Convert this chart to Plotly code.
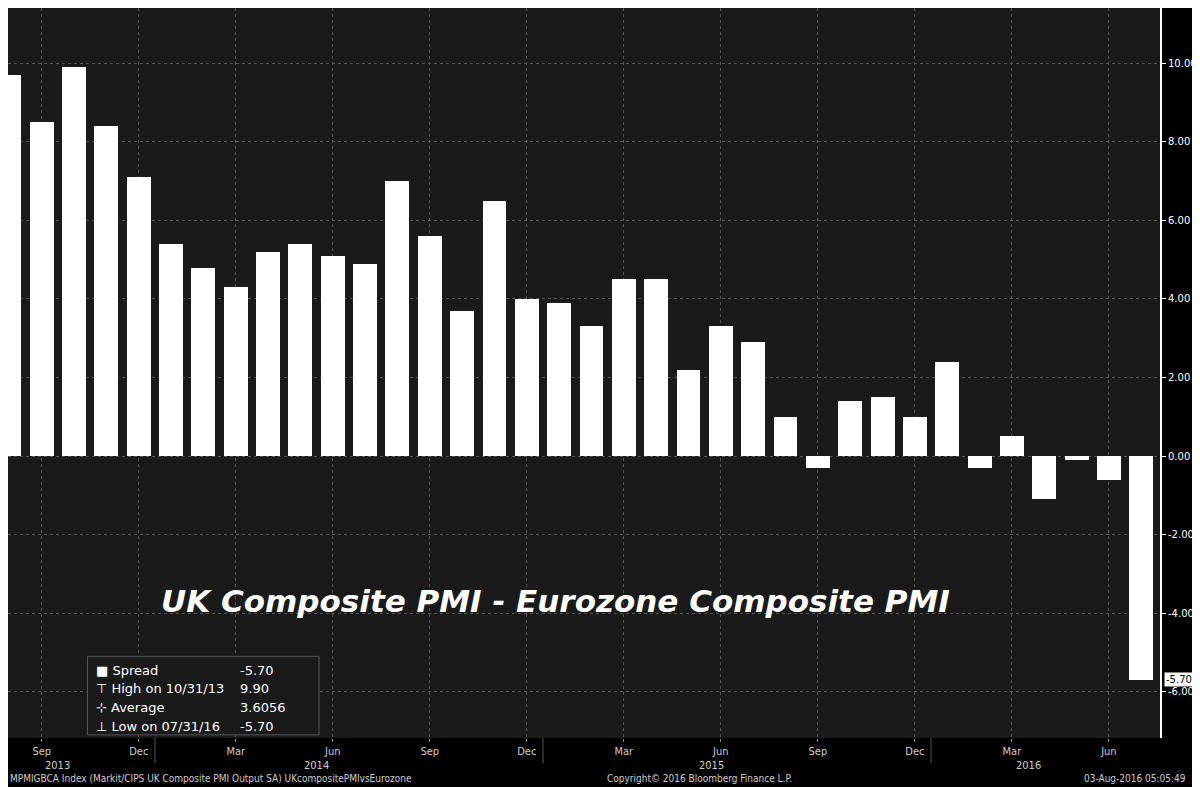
import plotly.graph_objects as go

months = ["Aug", "Sep", "Oct", "Nov", "Dec",
          "Jan", "Feb", "Mar", "Apr", "May", "Jun", "Jul", "Aug", "Sep", "Oct", "Nov", "Dec",
          "Jan", "Feb", "Mar", "Apr", "May", "Jun", "Jul", "Aug", "Sep", "Oct", "Nov", "Dec",
          "Jan", "Feb", "Mar", "Apr", "May", "Jun", "Jul"]
spread = [9.7, 8.5, 9.9, 8.4, 7.1,
          5.4, 4.8, 4.3, 5.2, 5.4, 5.1, 4.9, 7.0, 5.6, 3.7, 6.5, 4.0,
          3.9, 3.3, 4.5, 4.5, 2.2, 3.3, 2.9, 1.0, -0.3, 1.4, 1.5, 1.0,
          2.4, -0.3, 0.5, -1.1, -0.1, -0.6, -5.7]
years = ["2013", "2014", "2015", "2016"]
year_pos = [1.5, 9.5, 21.7, 31.5]
year_breaks = [4.5, 16.5, 28.5]
y_ticks = [-6, -4, -2, 0, 2, 4, 6, 8, 10]

x = list(range(len(spread)))
tick_idx = [i for i, m in enumerate(months) if m in ("Sep", "Dec", "Mar", "Jun")]

fig = go.Figure(go.Bar(x=x, y=spread, marker_color="white", marker_line_width=0, width=0.74))

axfont = dict(size=11, color="#cccccc", family="Liberation Sans Narrow, DejaVu Sans Condensed")
ann = []
for yr, p in zip(years, year_pos):
    ann.append(dict(x=p, y=0, xref="x", yref="paper", yanchor="top", yshift=-19, text=yr,
                    showarrow=False, font=axfont))
foot = dict(size=10, color="#cccccc", family="DejaVu Sans Condensed")
ann += [
    dict(x=0.0, y=0, xref="paper", yref="paper", xanchor="left", yanchor="top", showarrow=False,
         text="MPMIGBCA Index (Markit/CIPS UK Composite PMI Output SA) UKcompositePMIvsEurozone",
         font=foot, yshift=-33),
    dict(x=0.6, y=0, xref="paper", yref="paper", xanchor="center", yanchor="top", showarrow=False,
         text="Copyright© 2016 Bloomberg Finance L.P.", font=foot, yshift=-33),
    dict(x=1.024, y=0, xref="paper", yref="paper", xanchor="right", yanchor="top", showarrow=False,
         text="03-Aug-2016 05:05:49", font=foot, yshift=-33),
    dict(x=0.475, y=-3.7, xref="paper", yref="y", showarrow=False,
         text="<b><i>UK Composite PMI - Eurozone Composite PMI</i></b>",
         font=dict(size=31, color="white", family="DejaVu Sans")),
    dict(x=1.0, y=-5.7, xref="paper", yref="y", xanchor="left", showarrow=False, xshift=4,
         text="-5.70", bgcolor="white", font=dict(size=10, color="black", family="DejaVu Sans"),
         borderpad=1),
]
leg = dict(size=13, color="white", family="DejaVu Sans")
rows = [("■ Spread", "-5.70"), ("⊤ High on 10/31/13", "9.90"), ("⊹ Average", "3.6056"), ("⊥ Low on 07/31/16", "-5.70")]
for i, (a, b) in enumerate(rows):
    yy = -5.45 - i * 0.48
    ann.append(dict(x=0.075, y=yy, xref="paper", yref="y", xanchor="left", showarrow=False, text=a, font=leg))
    ann.append(dict(x=0.2, y=yy, xref="paper", yref="y", xanchor="left", showarrow=False, text=b, font=leg))

shapes = [dict(type="rect", xref="paper", yref="y", x0=0.069, x1=0.27, y0=-7.1, y1=-5.1,
               line=dict(color="#555555", width=1), fillcolor="#1a1a1a")]
for b in year_breaks:
    shapes.append(dict(type="line", xref="x", yref="paper", x0=b, x1=b, y0=0, y1=-0.035,
                       line=dict(color="#555555", width=1)))

fig.update_layout(
    width=1192, height=779, margin=dict(l=0, r=40, t=0, b=49),
    paper_bgcolor="black", plot_bgcolor="#1a1a1a", showlegend=False,
    annotations=ann, shapes=shapes, bargap=0,
    xaxis=dict(range=[-0.043, 35.58], tickvals=tick_idx, ticktext=[months[i] for i in tick_idx],
               showgrid=True, gridcolor="#555555", griddash="dot", gridwidth=1, zeroline=False,
               ticks="outside", ticklen=3, tickcolor="#888888", tickfont=axfont),
    yaxis=dict(range=[-7.18, 11.41], side="right", tickvals=y_ticks,
               ticktext=[f"{v:.2f}" for v in y_ticks], showgrid=True, gridcolor="#555555",
               griddash="dot", zeroline=False, showline=True, linecolor="white", linewidth=2,
               ticks="outside", ticklen=4, tickcolor="white",
               tickfont=dict(size=10, color="white", family="DejaVu Sans")),
)
fig.write_html("out.html")
